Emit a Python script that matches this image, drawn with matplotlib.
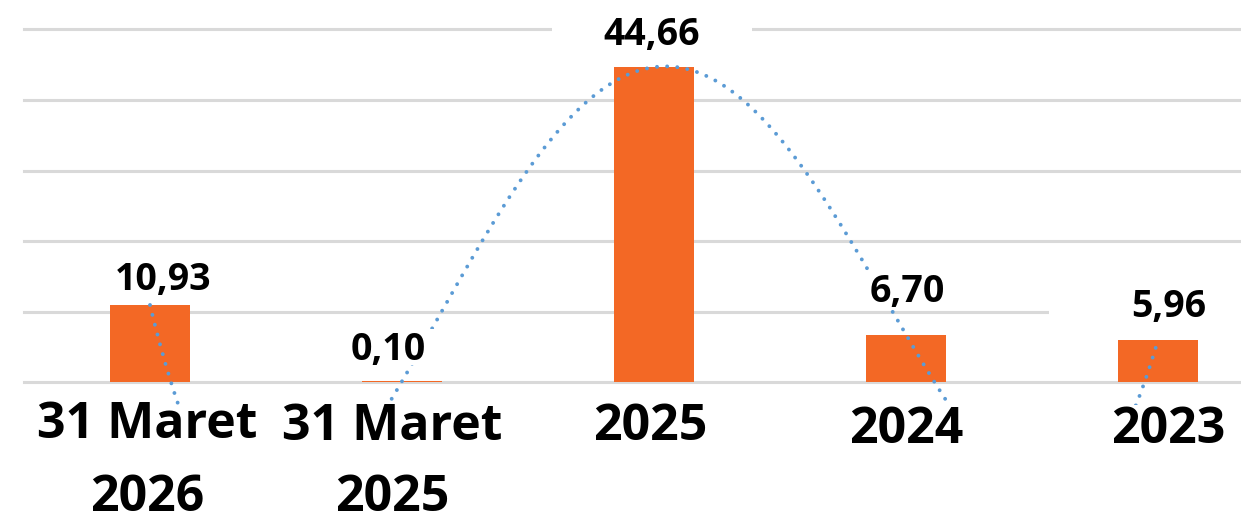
import numpy as np
import matplotlib
matplotlib.use("Agg")
import matplotlib.pyplot as plt
from matplotlib import transforms
from matplotlib.patches import Rectangle

# ---- data ----
categories = ["31 Maret\n2026", "31 Maret\n2025", "2025", "2024", "2023"]
values = [10.93, 0.10, 44.66, 6.70, 5.96]
value_labels = ["10,93", "0,10", "44,66", "6,70", "5,96"]
y_ticks = [0, 10, 20, 30, 40, 50]

# ---- style ----
BAR_COLOR = "#F36825"
TREND_COLOR = "#5B9BD5"
GRID_COLOR = "#D9D9D9"
FONT = "Open Sans"

# label offsets in pixels (dx, baseline dy above bar top)
val_dx = [13, -14, -2, 1, 11]
val_dy = [15, 21, 22, 33, 23]
box_w = [200, 200, 200, 200, 240]
# x-label offsets (dx, baseline below zero line for line 1, line 2)
cat_dx = [-3, -10, -4, 0, 10]
cat_dy1 = [56, 58, 58, 61, 61]
cat_dy2 = [129, 129, 129, 129, 129]

W, H = 1241, 515
fig = plt.figure(figsize=(W / 100, H / 100), dpi=100)
ax_left = 24 / W
ax_width = 1260 / W
ax_bottom = (H - 405.3) / H
ax_height = (405.3 - 29.5) / H
ax = fig.add_axes([ax_left, ax_bottom, ax_width, ax_height])

x = np.arange(len(values))
xlim = (-0.5, len(values) - 0.5)
ylim = (-3.3, 50)
ax.set_xlim(*xlim)
ax.set_ylim(*ylim)
px_x = (xlim[1] - xlim[0]) / (ax_width * W)
px_y = (ylim[1] - ylim[0]) / (ax_height * H)

# grid
for t in y_ticks:
    ax.axhline(t, color=GRID_COLOR, lw=2.2, zorder=0, clip_on=False)

ax.bar(x, values, width=0.317, color=BAR_COLOR, zorder=2)

# polynomial trendline (order 4)
coef = np.polyfit(x, values, 4)
xs = np.linspace(0, len(values) - 1, 600)
ax.plot(xs, np.polyval(coef, xs), color=TREND_COLOR, lw=2.8,
        linestyle=(0, (0.01, 2.6)), dash_capstyle="round", zorder=3)

for s in ax.spines.values():
    s.set_visible(False)
ax.set_xticks([])
ax.set_yticks([])

# value labels with white backing boxes
for i, (v, lab) in enumerate(zip(values, value_labels)):
    cx = x[i] + val_dx[i] * px_x
    y0 = v + (val_dy[i] - 5) * px_y
    y1 = v + (val_dy[i] + 31) * px_y
    ax.add_patch(Rectangle((cx - box_w[i] / 2 * px_x, y0), box_w[i] * px_x, y1 - y0,
                           facecolor="white", edgecolor="none", zorder=4, clip_on=False))
    tr = transforms.offset_copy(ax.transData, fig=fig, x=val_dx[i], y=val_dy[i], units="dots")
    ax.text(x[i], v, lab, transform=tr, ha="center", va="baseline",
            fontsize=27, fontweight="bold", family=FONT, color="black", zorder=5)

# category labels
for i, cat in enumerate(categories):
    lines = cat.split("\n")
    dys = [cat_dy1[i], cat_dy2[i]]
    for j, ln in enumerate(lines):
        tr = transforms.offset_copy(ax.transData, fig=fig, x=cat_dx[i], y=-dys[j], units="dots")
        ax.text(x[i], 0, ln, transform=tr, ha="center", va="baseline",
                fontsize=36, fontweight="bold", family=FONT, color="black",
                zorder=5, clip_on=False)

fig.savefig("out.png", dpi=100)
